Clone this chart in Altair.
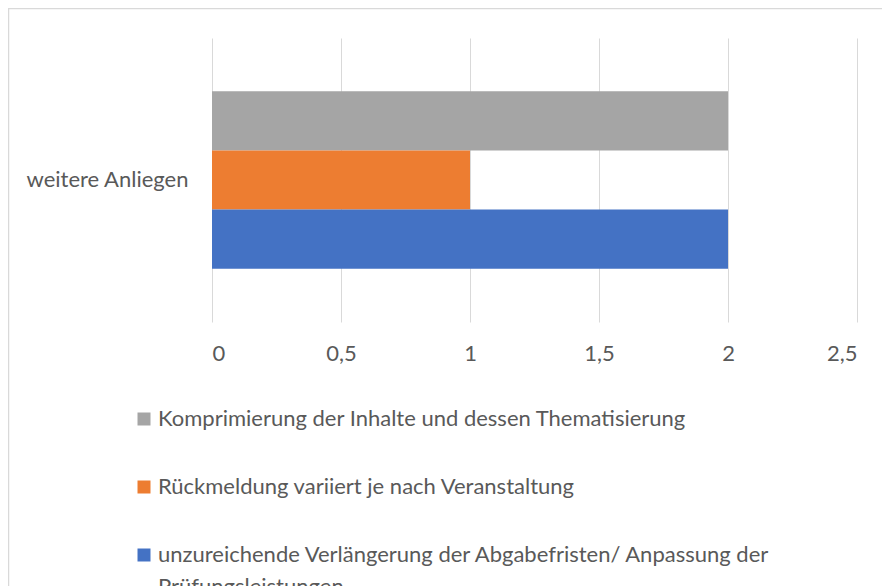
import altair as alt
import pandas as pd

categories = ["weitere Anliegen"]
series = [
    "Komprimierung der Inhalte und dessen Thematisierung",
    "Rückmeldung variiert je nach Veranstaltung",
    "unzureichende Verlängerung der Abgabefristen/ Anpassung der Prüfungsleistungen",
]
values = [2, 1, 2]
colors = ["#A5A5A5", "#ED7D31", "#4472C4"]
x_ticks = [0, 0.5, 1, 1.5, 2, 2.5]
long_label_lines = [
    "unzureichende Verlängerung der Abgabefristen/ Anpassung der",
    "Prüfungsleistungen",
]

df = pd.DataFrame({
    "category": categories * len(series),
    "series": series,
    "value": values,
})

FONT = "Lato"
FS = 22
TEXT = "#595959"
GRID = "#D9D9D9"

label_expr = "datum.label == '%s' ? ['%s', '%s'] : datum.label" % (
    series[2], long_label_lines[0], long_label_lines[1])

bars = alt.Chart(df).mark_bar().encode(
    x=alt.X(
        "value:Q",
        scale=alt.Scale(domain=[0, 2.5], nice=False, zero=True),
        axis=alt.Axis(
            values=x_ticks, title=None,
            labelExpr="replace(toString(datum.value), '.', ',')",
            grid=True, gridColor=GRID, gridWidth=1,
            domain=False, ticks=False, tickSize=0, labelPadding=21,
            labelFont=FONT, labelFontSize=FS, labelColor=TEXT,
        ),
    ),
    y=alt.Y(
        "category:N", title=None,
        scale=alt.Scale(paddingInner=0, paddingOuter=0.3),
        axis=alt.Axis(
            domain=False, ticks=False, tickSize=0, labelPadding=24, grid=False,
            labelFont=FONT, labelFontSize=FS, labelColor=TEXT, labelLimit=400,
        ),
    ),
    yOffset=alt.YOffset("series:N", sort=series,
                        scale=alt.Scale(paddingInner=0, paddingOuter=0)),
    color=alt.Color(
        "series:N", sort=series,
        scale=alt.Scale(domain=series, range=colors),
        legend=alt.Legend(
            title=None, orient="none", legendX=-79, legendY=370,
            direction="vertical", symbolType="square", symbolSize=169,
            symbolStrokeWidth=0, symbolOpacity=1,
            labelFont=FONT, labelFontSize=FS, labelColor=TEXT,
            labelOffset=3, labelLimit=1000, rowPadding=46,
            labelExpr=label_expr,
        ),
    ),
)

border = alt.Chart(pd.DataFrame({"b": [0]})).mark_rect(
    fillOpacity=0, stroke=GRID, strokeWidth=1.5
).encode(
    x=alt.value(-203.5), x2=alt.value(1000),
    y=alt.value(-29.5), y2=alt.value(1000),
)

chart = alt.layer(border, bars).properties(
    width=645, height=284,
    padding={"left": 204, "top": 30, "right": 25, "bottom": 264},
    autosize=alt.AutoSizeParams(type="none"),
).configure(
    view=alt.ViewConfig(stroke=None),
    style={"guide-label": {"lineHeight": 32}},
)

chart.save("out.html", embed_options={"renderer": "svg", "actions": False})
